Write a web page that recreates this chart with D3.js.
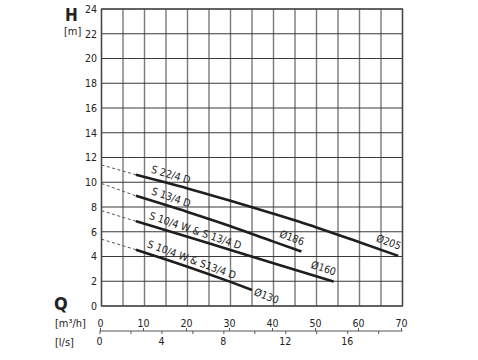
<!DOCTYPE html>
<html><head><meta charset="utf-8">
<script src="https://cdn.jsdelivr.net/npm/d3@7"></script>
<style>
html,body{margin:0;padding:0;background:#fff;}
svg{display:block;font-family:"DejaVu Sans Condensed","DejaVu Sans",Roboto,sans-serif;}
</style></head>
<body>
<svg id="c" width="478" height="360"></svg>
<script>
// ---- data ----
const hTicks = [0,2,4,6,8,10,12,14,16,18,20,22,24];
const qTicks = [0,10,20,30,40,50,60,70];
const lsTicks = [0,4,8,12,16];
const gridQ = [0,5,10,15,20,25,30,35,40,45,50,55,60,65,70];

const curveNames = ["S 22/4 D","S 13/4 D","S 10/4 W & S 13/4 D","S 10/4 W & S13/4 D"];
const diamLabels = ["Ø205","Ø186","Ø160","Ø130"];
// solid curves: [Q m3/h, H m]
const curve205 = [[8,10.6],[20,9.5],[30,8.5],[40,7.45],[50,6.35],[60,5.15],[69,4.05]];
const curve186 = [[8,8.9],[20,7.6],[30,6.45],[40,5.2],[46.5,4.4]];
const curve160 = [[8,6.85],[20,5.6],[30,4.52],[40,3.45],[54,1.97]];
const curve130 = [[8,4.55],[15,3.75],[20,3.17],[25,2.57],[30,1.95],[35,1.3]];
// dashed extrapolations
const dash205 = [[0,11.4],[8,10.6]];
const dash186 = [[0,9.9],[8,8.9]];
const dash160 = [[0,7.7],[8,6.85]];
const dash130 = [[0,5.4],[8,4.55]];
const nameAnchorQ = [11,11,10.5,10];

const curves = [curve205, curve186, curve160, curve130];
const dashes = [dash205, dash186, dash160, dash130];

// ---- chart ----
const svg = d3.select("#c");
const x = d3.scaleLinear().domain([0,70]).range([101.5,402.5]);
const y = d3.scaleLinear().domain([0,24]).range([306,9]);
const txt = "#222";

// grid
const g = svg.append("g");
g.selectAll("line.v").data(gridQ).join("line")
  .attr("x1",d=>x(d)).attr("x2",d=>x(d)).attr("y1",y(0)).attr("y2",y(24))
  .attr("stroke","#7a7a7a").attr("stroke-width",1.4);
g.selectAll("line.h").data(hTicks).join("line")
  .attr("x1",x(0)).attr("x2",x(70)).attr("y1",d=>y(d)).attr("y2",d=>y(d))
  .attr("stroke","#3a3a3a").attr("stroke-width",1.1);
g.append("rect").attr("x",x(0)).attr("y",y(24)).attr("width",x(70)-x(0)).attr("height",y(0)-y(24))
  .attr("fill","none").attr("stroke","#444").attr("stroke-width",1.3);

// y labels
svg.append("g").selectAll("text").data(hTicks).join("text")
  .attr("x",97).attr("y",d=>y(d)).attr("dy","0.36em").attr("text-anchor","end")
  .attr("font-size",10.5).attr("fill",txt).text(d=>d);
svg.append("text").attr("x",65).attr("y",21).attr("font-size",17).attr("font-weight","bold").attr("fill",txt).text("H");
svg.append("text").attr("x",64).attr("y",35).attr("font-size",11).attr("fill",txt).text("[m]");

// x labels
svg.append("g").selectAll("text").data(qTicks).join("text")
  .attr("x",d=>x(d)-1).attr("y",323).attr("dy","0.36em").attr("text-anchor","middle")
  .attr("font-size",10.5).attr("fill",txt).text(d=>d);
svg.append("g").selectAll("text").data(lsTicks).join("text")
  .attr("x",d=>x(d*3.6)-2).attr("y",341).attr("dy","0.36em").attr("text-anchor","middle")
  .attr("font-size",10.5).attr("fill",txt).text(d=>d);
// dual axis line
const ax = svg.append("g");
ax.append("line").attr("x1",x(0)-2).attr("x2",x(70)).attr("y1",331).attr("y2",331).attr("stroke","#555").attr("stroke-width",1);
const lsMinor = d3.range(0, 70/3.6, 2);
ax.selectAll("line.l").data(lsMinor).join("line")
  .attr("x1",d=>x(d*3.6)-1.5).attr("x2",d=>x(d*3.6)-1.5).attr("y1",331).attr("y2",334).attr("stroke","#555");
ax.selectAll("line.q").data(qTicks).join("line")
  .attr("x1",d=>x(d)-1).attr("x2",d=>x(d)-1).attr("y1",328).attr("y2",331).attr("stroke","#555");
svg.append("text").attr("x",54).attr("y",310).attr("font-size",18).attr("font-weight","bold").attr("fill",txt).text("Q");
svg.append("text").attr("x",55).attr("y",327).attr("font-size",11).attr("fill",txt).text("[m³/h]");
svg.append("text").attr("x",55).attr("y",346).attr("font-size",11).attr("fill",txt).text("[l/s]");

// curves
const line = d3.line().x(d=>x(d[0])).y(d=>y(d[1])).curve(d3.curveMonotoneX);
svg.append("g").selectAll("path").data(dashes).join("path")
  .attr("d",d3.line().x(d=>x(d[0])).y(d=>y(d[1])))
  .attr("fill","none").attr("stroke","#555").attr("stroke-width",1).attr("stroke-dasharray","3,2.5");
svg.append("g").selectAll("path").data(curves).join("path")
  .attr("d",line).attr("fill","none").attr("stroke","#1e1e1e").attr("stroke-width",2.6).attr("stroke-linecap","butt");

// helpers
function hAt(c,q){
  for(let i=0;i<c.length-1;i++){
    if(q>=c[i][0]&&q<=c[i+1][0]){const t=(q-c[i][0])/(c[i+1][0]-c[i][0]);return c[i][1]+t*(c[i+1][1]-c[i][1]);}
  }
  return c[c.length-1][1];
}
function angAt(c,q0,q1){
  const dx=x(q1)-x(q0), dy=y(hAt(c,q1))-y(hAt(c,q0));
  return Math.atan2(dy,dx)*180/Math.PI;
}
// name labels
curves.forEach((c,i)=>{
  const q=nameAnchorQ[i], a=angAt(c,q,q+ (i<2?8:18));
  svg.append("text")
    .attr("transform",`translate(${x(q)},${y(hAt(c,q))}) rotate(${a+1.5})`)
    .attr("y",-6).attr("font-size",10.5).attr("fill",txt).text(curveNames[i]);
});
// diameter labels
curves.forEach((c,i)=>{
  const last=c[c.length-1], a=angAt(c,last[0]-6,last[0]);
  const t=svg.append("text")
    .attr("transform",`translate(${x(last[0])},${y(last[1])}) rotate(${a+1})`)
    .attr("font-size",10.5).attr("fill",txt).text(diamLabels[i]);
  if(i===3){ t.attr("x",3).attr("y",4).attr("text-anchor","start"); }
  else { t.attr("x",-1).attr("y",-6).attr("text-anchor","end"); }
});
</script>
</body></html>
